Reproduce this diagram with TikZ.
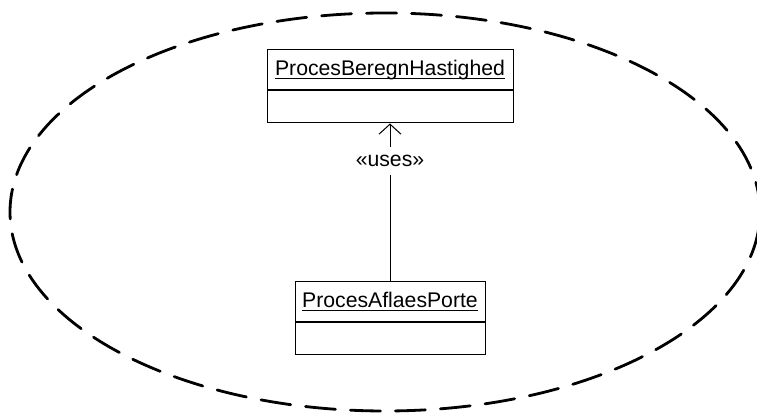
\documentclass[tikz,border=0pt]{standalone}
\usepackage{fontspec}
\setmainfont{Liberation Sans}
\usetikzlibrary{arrows.meta,positioning}

% object name, underlined just under the baseline
\newcommand{\objname}[1]{\underline{\smash{#1}}}

\begin{document}
\begin{tikzpicture}[
    x=0.5pt, y=0.5pt,
    nameplate/.style={draw=black, line width=0.5pt, minimum height=20pt, inner sep=0pt, text height=8pt, text depth=2pt, font=\fontsize{10.6}{12}\selectfont},
    bodyplate/.style={draw=black, line width=0.5pt, minimum height=16pt, inner sep=0pt},
    usesarrow/.style={line width=0.5pt, -{Straight Barb[length=5pt, width=11pt]}},
    region/.style={dash pattern=on 15pt off 7.5pt, line width=1.4pt, line cap=round}
]
\useasboundingbox (0,0) rectangle (757,413);

% --- dashed boundary ---
\draw[region] (385,201) ellipse [x radius=187.5pt, y radius=99.5pt];

% --- upper object ---
\node[nameplate, minimum width=123pt] (beregn) at (390,343) {\objname{ProcesBeregnHastighed}};
\node[bodyplate, minimum width=123pt, below=0pt of beregn] (beregnbody) {};

% --- lower object ---
\node[nameplate, minimum width=95pt] (aflaes) at (390,111.5) {\objname{ProcesAflaesPorte}};
\node[bodyplate, minimum width=95pt, below=0pt of aflaes] (aflaesbody) {};

% dependency
\draw[usesarrow] (aflaes.north) -- node[pos=0.76, fill=white, inner sep=4pt, font=\fontsize{10.6}{12}\selectfont] (usestag) {«uses»} (beregnbody.south);

\end{tikzpicture}
\end{document}
